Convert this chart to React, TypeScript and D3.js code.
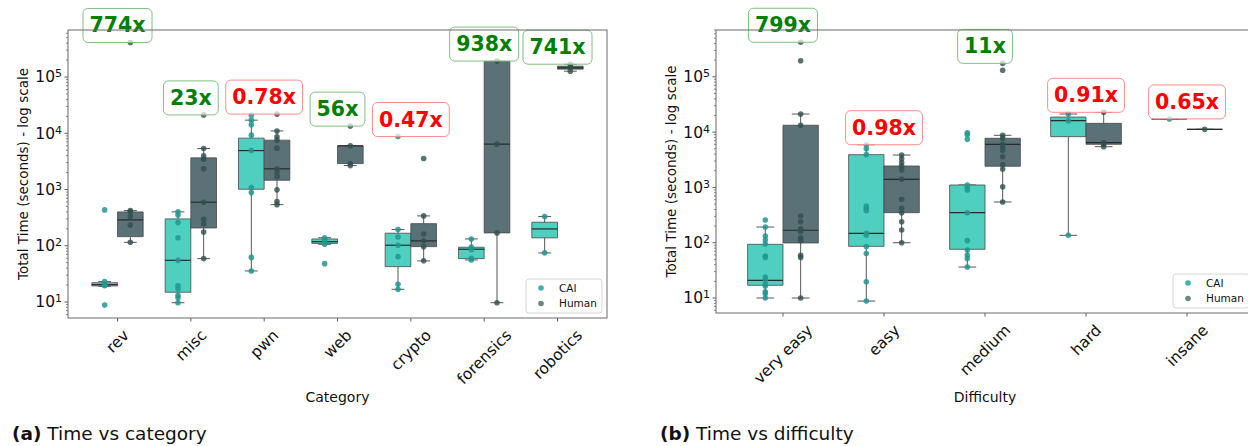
import * as d3 from "d3";
import { useEffect, useRef } from "react";

// ---- panel (a): time vs category ----
const CATEGORIES = ["rev", "misc", "pwn", "web", "crypto", "forensics", "robotics"];
// box stats: [whiskerLow, q1, median, q3, whiskerHigh]
const CAT_CAI_BOX = [
	[19, 19.3, 20.3, 22, 23],
	[9.7, 14.9, 55, 300, 400],
	[35.6, 1010, 4920, 8190, 17100],
	[106, 110, 118, 132, 139],
	[16.8, 42.5, 102, 167, 194],
	[55.8, 59, 86.7, 94, 132],
	[74.5, 138, 199, 262, 330],
];
const CAT_HUMAN_BOX = [
	[115, 145, 288, 399, 421],
	[59, 207, 594, 3650, 5350],
	[538, 1460, 2330, 7540, 11000],
	[2660, 2890, 5970, 5970, 5970],
	[53.7, 96.4, 122, 247, 339],
	[9.7, 169, 6400, 192000, 192000],
	[127000, 138000, 146000, 156000, 169000],
];
const CAT_CAI_POINTS = [
	[434, 23, 21, 20, 19.5, 8.8],
	[400, 353, 258, 139, 55, 19.3, 17.2, 13.2, 11.9, 9.7],
	[21000, 17100, 14100, 9250, 4920, 1080, 881, 62, 35.6],
	[139, 125, 106, 48],
	[8740, 194, 143, 102, 64, 20.6, 16.8],
	[132, 95, 85, 60, 55.8],
	[330, 74.5],
];
const CAT_HUMAN_POINTS = [
	[411000, 421, 400, 330, 234, 115],
	[21200, 5350, 3960, 3460, 2330, 594, 296, 244, 176, 59],
	[21900, 11000, 8630, 7540, 5430, 2330, 2030, 1700, 985, 609, 538],
	[13400, 6000, 2890, 2660],
	[3550, 339, 162, 122, 96, 54],
	[192000, 6400, 169, 9.7],
	[169000, 150000, 127000],
];
const CAT_RATIOS = [774, 23, 0.78, 56, 0.47, 938, 741];

// ---- panel (b): time vs difficulty ----
const DIFFICULTIES = ["very easy", "easy", "medium", "hard", "insane"];
const DIFF_CAI_BOX = [
	[10, 17, 20.9, 93.5, 192],
	[8.8, 86, 148, 3910, 5910],
	[36.3, 76, 349, 1105, 1105],
	[136, 8260, 16100, 18700, 21200],
	[17300, 17300, 17300, 17300, 17300],
];
const DIFF_HUMAN_BOX = [
	[10, 98.9, 168, 13300, 21200],
	[100, 349, 1400, 2440, 3850],
	[545, 2410, 6010, 7730, 8750],
	[5440, 6010, 6430, 14400, 22800],
	[11200, 11200, 11200, 11200, 11200],
];
const DIFF_CAI_POINTS = [
	[258, 192, 132, 112, 95, 57.5, 54, 24, 21.5, 17.7, 16.5, 13, 12, 10],
	[5910, 5000, 3910, 461, 420, 380, 148, 136, 85, 64, 19.7, 8.8],
	[9750, 9000, 7400, 1100, 1000, 897, 349, 109, 74, 60, 52, 36.3],
	[21200, 16000, 136],
	[17300],
];
const DIFF_HUMAN_POINTS = [
	[421000, 195000, 21200, 13300, 304, 240, 179, 160, 123, 110, 59, 54, 10],
	[3850, 3300, 2800, 2440, 2070, 1400, 610, 419, 349, 240, 170, 100],
	[175000, 131000, 8750, 7730, 6010, 5440, 4700, 3590, 2600, 2150, 1030, 545],
	[22800, 6430, 6010, 5440],
	[11200],
];
const DIFF_RATIOS = [799, 0.98, 11, 0.91, 0.65];

const SERIES = ["CAI", "Human"];

const FONT = "'DejaVu Sans', sans-serif";
const CAI_FILL = "#4ecfbf";
const HUMAN_FILL = "#5a7177";
const CAI_DOT = "#22968f";
const HUMAN_DOT = "#2f4f4f";

interface PanelCfg {
	left: number;
	right: number;
	top: number;
	bottom: number;
	yExp: [number, number];
	xPad: number;
	categories: string[];
	caiBox: number[][];
	humanBox: number[][];
	caiPts: number[][];
	humanPts: number[][];
	ratios: number[];
	xTitle: string;
	titleY: number;
}

function drawPanel(svg: d3.Selection<SVGSVGElement, unknown, null, undefined>, cfg: PanelCfg) {
	const g = svg.append("g");
	const x = d3
		.scaleLinear()
		.domain([-cfg.xPad, cfg.categories.length - 1 + cfg.xPad])
		.range([cfg.left, cfg.right]);
	const y = d3
		.scaleLog()
		.domain([10 ** cfg.yExp[0], 10 ** cfg.yExp[1]])
		.range([cfg.bottom, cfg.top]);
	const step = x(1) - x(0);
	const bw = step * 0.35;

	const groups = [
		{ boxes: cfg.caiBox, pts: cfg.caiPts, off: -bw / 2, fill: CAI_FILL, dot: CAI_DOT, dotOp: 0.85 },
		{ boxes: cfg.humanBox, pts: cfg.humanPts, off: bw / 2, fill: HUMAN_FILL, dot: HUMAN_DOT, dotOp: 0.8 },
	];

	// boxes
	groups.forEach((s) => {
		s.boxes.forEach((b, i) => {
			const cx = x(i) + s.off;
			const [wl, q1, med, q3, wh] = b;
			const bg = g.append("g");
			bg.append("line")
				.attr("x1", cx).attr("x2", cx)
				.attr("y1", y(q3)).attr("y2", y(wh))
				.attr("stroke", "#3a3a3a").attr("stroke-opacity", 0.85).attr("stroke-width", 1);
			bg.append("line")
				.attr("x1", cx).attr("x2", cx)
				.attr("y1", y(q1)).attr("y2", y(wl))
				.attr("stroke", "#3a3a3a").attr("stroke-opacity", 0.85).attr("stroke-width", 1);
			[wl, wh].forEach((v) => {
				bg.append("line")
					.attr("x1", cx - bw / 4).attr("x2", cx + bw / 4)
					.attr("y1", y(v)).attr("y2", y(v))
					.attr("stroke", "#3a3a3a").attr("stroke-opacity", 0.85).attr("stroke-width", 1);
			});
			const x0 = cx - bw / 2;
			const x1 = cx + bw / 2;
			bg.append("path")
				.attr("d", `M${x0},${y(q3)}H${x1}V${y(q1)}H${x0}Z`)
				.attr("fill", s.fill)
				.attr("stroke", "#4a4a4a")
				.attr("stroke-opacity", 0.8)
				.attr("stroke-width", 1);
			bg.append("line")
				.attr("x1", x0).attr("x2", x1)
				.attr("y1", y(med)).attr("y2", y(med))
				.attr("stroke", "#2a2a2a").attr("stroke-width", 1.2);
		});
	});

	// points
	groups.forEach((s) => {
		s.pts.forEach((arr, i) => {
			const cx = x(i) + s.off;
			g.selectAll(null)
				.data(arr)
				.enter()
				.append("circle")
				.attr("cx", cx)
				.attr("cy", (d) => y(d))
				.attr("r", 2.8)
				.attr("fill", s.dot)
				.attr("fill-opacity", s.dotOp);
		});
	});

	// ratio labels
	cfg.ratios.forEach((r, i) => {
		const maxV = d3.max([...cfg.caiPts[i], ...cfg.humanPts[i]]) ?? 1;
		const ay = y(maxV);
		const good = r >= 1;
		const lg = g.append("g");
		const rect = lg.append("rect");
		const t = lg
			.append("text")
			.attr("x", x(i))
			.attr("y", ay - 10)
			.attr("text-anchor", "middle")
			.attr("font-family", FONT)
			.attr("font-size", 20.5)
			.attr("font-weight", "bold")
			.attr("fill", good ? "#008000" : "#ff0000")
			.text(`${r}x`);
		const tw = (t.node() as SVGTextElement).getComputedTextLength();
		rect.attr("x", x(i) - tw / 2 - 6.5)
			.attr("y", ay - 34)
			.attr("width", tw + 13)
			.attr("height", 34)
			.attr("rx", 5)
			.attr("fill", "white")
			.attr("fill-opacity", 0.7)
			.attr("stroke", good ? "#80c080" : "#ff8c8c")
			.attr("stroke-width", 1);
	});

	// y minor ticks
	const minor: number[] = [];
	for (let k = 0; k <= 5; k++) for (let m = 2; m <= 9; m++) minor.push(m * 10 ** k);
	g.selectAll(null)
		.data(minor.filter((v) => v >= y.domain()[0] && v <= y.domain()[1]))
		.enter()
		.append("line")
		.attr("x1", cfg.left - 2)
		.attr("x2", cfg.left)
		.attr("y1", (d) => y(d))
		.attr("y2", (d) => y(d))
		.attr("stroke", "#333")
		.attr("stroke-width", 0.6);

	// y major ticks + labels
	const major = [1, 2, 3, 4, 5];
	major.forEach((e) => {
		const yy = y(10 ** e);
		g.append("line")
			.attr("x1", cfg.left - 3.5).attr("x2", cfg.left)
			.attr("y1", yy).attr("y2", yy)
			.attr("stroke", "#333").attr("stroke-width", 0.8);
		const t = g
			.append("text")
			.attr("x", cfg.left - 6)
			.attr("y", yy)
			.attr("dy", "0.35em")
			.attr("text-anchor", "end")
			.attr("font-family", FONT)
			.attr("font-size", 15.5)
			.attr("fill", "#111");
		t.append("tspan").text("10");
		t.append("tspan").attr("dy", "-0.45em").attr("font-size", 11).text(String(e));
	});

	// x ticks + rotated labels
	cfg.categories.forEach((c, i) => {
		const xx = x(i);
		g.append("line")
			.attr("x1", xx).attr("x2", xx)
			.attr("y1", cfg.bottom).attr("y2", cfg.bottom + 3.5)
			.attr("stroke", "#333").attr("stroke-width", 0.8);
		const t = g
			.append("text")
			.attr("text-anchor", "middle")
			.attr("dy", "0.35em")
			.attr("font-family", FONT)
			.attr("font-size", 15.5)
			.attr("fill", "#111")
			.text(c);
		const L = (t.node() as SVGTextElement).getComputedTextLength();
		const H = 15.5 * 1.16;
		const cy = cfg.bottom + 8 + (L + H) / (2 * Math.SQRT2);
		t.attr("transform", `translate(${xx},${cy}) rotate(-45)`);
	});

	// spines
	g.append("rect")
		.attr("x", cfg.left)
		.attr("y", cfg.top)
		.attr("width", cfg.right - cfg.left)
		.attr("height", cfg.bottom - cfg.top)
		.attr("fill", "none")
		.attr("stroke", "#6a6a6a")
		.attr("stroke-width", 1);

	// axis titles
	g.append("text")
		.attr("transform", `translate(${cfg.left - 45},${(cfg.top + cfg.bottom) / 2}) rotate(-90)`)
		.attr("dy", "0.35em")
		.attr("text-anchor", "middle")
		.attr("font-family", FONT)
		.attr("font-size", 13.5)
		.attr("fill", "#111")
		.text("Total Time (seconds) - log scale");
	g.append("text")
		.attr("x", (cfg.left + cfg.right) / 2)
		.attr("y", cfg.titleY)
		.attr("text-anchor", "middle")
		.attr("font-family", FONT)
		.attr("font-size", 14)
		.attr("fill", "#111")
		.text(cfg.xTitle);

	// legend
	const lx = cfg.right - 5 - 76;
	const ly = cfg.bottom - 5 - 34;
	const leg = g.append("g");
	leg.append("rect")
		.attr("x", lx).attr("y", ly)
		.attr("width", 76).attr("height", 34)
		.attr("rx", 3)
		.attr("fill", "white").attr("fill-opacity", 0.85)
		.attr("stroke", "#d6d6d6");
	SERIES.forEach((s, k) => {
		const yy = ly + 9 + k * 15.5;
		leg.append("circle")
			.attr("cx", lx + 15).attr("cy", yy).attr("r", 2.8)
			.attr("fill", k === 0 ? "#40b1ac" : "#6b8787");
		leg.append("text")
			.attr("x", lx + 33).attr("y", yy)
			.attr("dy", "0.35em")
			.attr("font-family", FONT)
			.attr("font-size", 10.5)
			.attr("fill", "#111")
			.text(s);
	});
}

export default function App() {
	const svgRef = useRef<SVGSVGElement>(null);

	useEffect(() => {
		if (!svgRef.current) return;
		const svg = d3.select(svgRef.current);
		svg.selectAll("*").remove();

		drawPanel(svg, {
			left: 68,
			right: 607,
			top: 30,
			bottom: 318,
			yExp: [0.715, 5.836],
			xPad: 0.675,
			categories: CATEGORIES,
			caiBox: CAT_CAI_BOX,
			humanBox: CAT_HUMAN_BOX,
			caiPts: CAT_CAI_POINTS,
			humanPts: CAT_HUMAN_POINTS,
			ratios: CAT_RATIOS,
			xTitle: "Category",
			titleY: 402,
		});
		drawPanel(svg, {
			left: 716,
			right: 1254,
			top: 30,
			bottom: 313,
			yExp: [0.729, 5.846],
			xPad: 0.663,
			categories: DIFFICULTIES,
			caiBox: DIFF_CAI_BOX,
			humanBox: DIFF_HUMAN_BOX,
			caiPts: DIFF_CAI_POINTS,
			humanPts: DIFF_HUMAN_POINTS,
			ratios: DIFF_RATIOS,
			xTitle: "Difficulty",
			titleY: 402,
		});

		// sub-captions
		const captions = [
			{ x: 12, tag: "(a)", text: " Time vs category" },
			{ x: 660, tag: "(b)", text: " Time vs difficulty" },
		];
		captions.forEach((c) => {
			const t = svg
				.append("text")
				.attr("x", c.x)
				.attr("y", 440)
				.attr("font-family", FONT)
				.attr("font-size", 18.5)
				.attr("fill", "#111");
			t.append("tspan").attr("font-weight", "bold").text(c.tag);
			t.append("tspan").text(c.text);
		});
	}, []);

	return (
		<svg
			ref={svgRef}
			width={1248}
			height={446}
			style={{ position: "absolute", left: 0, top: 0, background: "white" }}
		/>
	);
}
